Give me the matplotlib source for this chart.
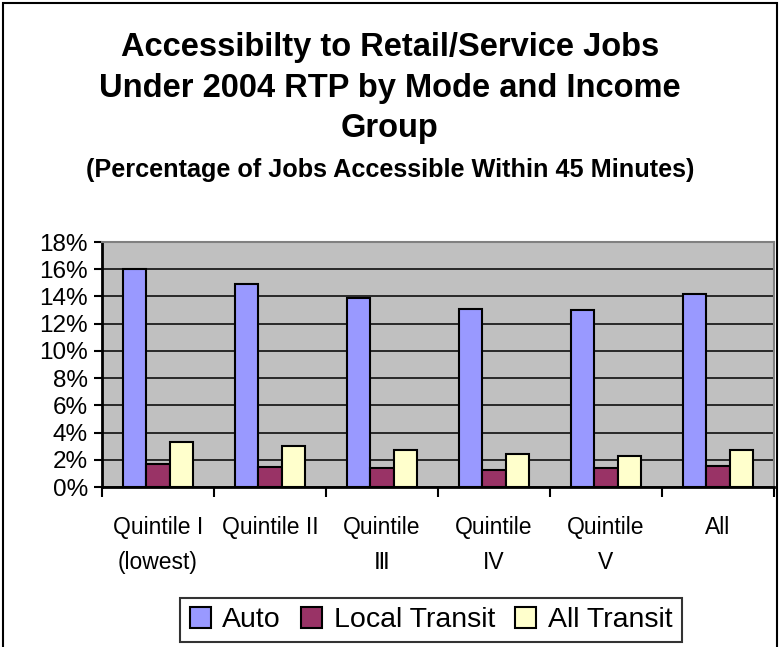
import numpy as np
import matplotlib.pyplot as plt
import matplotlib.patches as patches

plt.rcParams['font.family'] = ['Liberation Sans', 'DejaVu Sans']

# income groups and % of retail/service jobs reachable within 45 min
groups = ['Quintile I\n(lowest)', 'Quintile II', 'Quintile\nⅢ', 'Quintile\nIV', 'Quintile\nV', 'All']
auto = [16.0, 14.9, 13.9, 13.1, 13.0, 14.2]
local_transit = [1.7, 1.5, 1.4, 1.25, 1.4, 1.55]
all_transit = [3.3, 3.0, 2.7, 2.4, 2.3, 2.7]

fig = plt.figure(figsize=(7.8, 6.47), dpi=100)
W, H = 780.0, 647.0
ax = fig.add_axes([102/W, 1-487/H, (774-102)/W, (487-242)/H])

x = np.arange(len(groups))
w = 0.208
ax.bar(x - w, auto, w, color='#9999FF', edgecolor='black', linewidth=1.5, label='Auto', zorder=3)
ax.bar(x, local_transit, w, color='#993366', edgecolor='black', linewidth=1.5, label='Local Transit', zorder=3)
ax.bar(x + w, all_transit, w, color='#FFFFCC', edgecolor='black', linewidth=1.5, label='All Transit', zorder=3)

ax.set_facecolor('#C0C0C0')
ax.set_xlim(-0.5, len(groups) - 0.5)
ax.set_ylim(0, 18)
ax.set_yticks(np.arange(0, 19, 2))
ax.set_yticklabels(['%d%%' % v for v in range(0, 19, 2)], fontsize=17.5)
ax.yaxis.grid(True, color='black', linewidth=1.1)
ax.set_axisbelow(True)

# ticks sit between the categories, labels centred under each group
ax.set_xticks(np.arange(-0.5, len(groups)), minor=False)
ax.set_xticklabels([])
ax.set_xticks(x, minor=True)
ax.set_xticklabels(groups, minor=True, fontsize=16.5, linespacing=1.65, va='top')
ax.tick_params(axis='x', which='major', direction='out', length=7, width=1.5)
ax.tick_params(axis='x', which='minor', length=0, pad=21)
ax.tick_params(axis='y', direction='out', length=6, width=1.5, pad=4)

for s in ['left', 'bottom']:
    ax.spines[s].set_linewidth(2)
    ax.spines[s].set_color('black')
for s in ['top', 'right']:
    ax.spines[s].set_linewidth(1.5)
    ax.spines[s].set_color('#808080')

fig.text(0.5, 1-56/H, 'Accessibilty to Retail/Service Jobs', ha='center', va='baseline',
         fontsize=23.5, fontweight='bold')
fig.text(0.5, 1-97/H, 'Under 2004 RTP by Mode and Income', ha='center', va='baseline',
         fontsize=23.5, fontweight='bold')
fig.text(0.5, 1-137/H, 'Group', ha='center', va='baseline', fontsize=23.5, fontweight='bold')
fig.text(0.5, 1-177/H, '(Percentage of Jobs Accessible Within 45 Minutes)', ha='center', va='baseline',
         fontsize=18.2, fontweight='bold')

leg = fig.legend(loc='center', bbox_to_anchor=(431/W, 1-620/H), ncol=3, fontsize=20.5,
                 frameon=True, fancybox=False, edgecolor='black', handlelength=0.75,
                 handleheight=0.75, handletextpad=0.4, columnspacing=0.7, borderpad=0.32)
leg.get_frame().set_linewidth(1.5)

# outer chart border
fig.patches.append(patches.Rectangle((3/W, -0.05), 774/W, 1.05 - 3/H, transform=fig.transFigure,
                                     fill=False, edgecolor='black', linewidth=1.5))

fig.savefig('out.png', dpi=100)
